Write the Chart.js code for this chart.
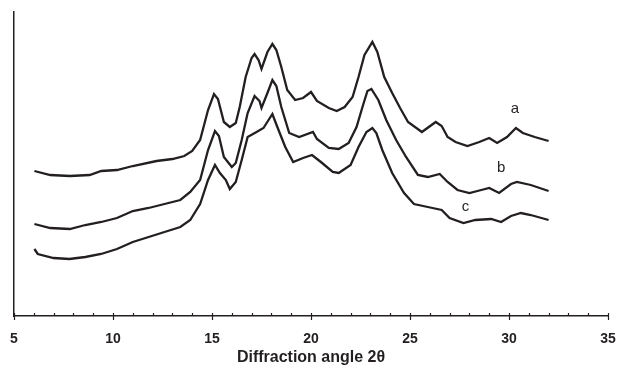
<!DOCTYPE html>
<html>
<head>
<meta charset="utf-8">
<script src="https://cdn.jsdelivr.net/npm/chart.js@4/dist/chart.umd.min.js"></script>
<style>
  html, body { margin: 0; padding: 0; background: #fff; }
  #wrap { width: 617px; height: 367px; }
</style>
</head>
<body>
<div id="wrap"><canvas id="xrd" width="617" height="367"></canvas></div>
<script>
// 2-theta positions and intensities (arbitrary units)
const angleA = [6.03, 6.83, 7.82, 8.82, 9.41, 10.2, 11.0, 12.2, 13.0, 13.6, 14.0, 14.4, 14.8, 15.1, 15.3, 15.6, 15.9, 16.2, 16.4, 16.7, 17.0, 17.15, 17.35, 17.5, 17.8, 18.05, 18.25, 18.5, 18.8, 19.2, 19.6, 20.0, 20.3, 20.9, 21.3, 21.7, 22.1, 22.4, 22.7, 23.1, 23.35, 23.7, 24.1, 24.5, 24.9, 25.6, 26.3, 26.6, 26.9, 27.3, 27.9, 28.5, 29.0, 29.4, 29.9, 30.35, 30.7, 31.3, 32.0];
const intensityA = [145, 141, 140, 141, 145, 146, 150, 155, 157, 160, 165, 176, 206, 222, 217, 194, 189, 193, 209, 239, 258, 262, 256, 247, 264, 272, 266, 249, 226, 216, 218, 224, 215, 208, 205, 209, 219, 239, 261, 274, 264, 239, 223, 208, 194, 184, 194, 190, 179, 174, 170, 174, 178, 173, 179, 188, 183, 179, 175];

const angleB = [6.03, 6.83, 7.82, 8.6, 9.41, 10.2, 11.0, 11.8, 12.6, 13.4, 13.9, 14.4, 14.8, 15.15, 15.35, 15.6, 16.0, 16.2, 16.5, 16.8, 17.15, 17.4, 17.5, 17.8, 18.05, 18.25, 18.5, 18.9, 19.4, 20.1, 20.3, 20.9, 21.4, 21.9, 22.3, 22.6, 22.85, 23.05, 23.4, 23.8, 24.3, 24.8, 25.4, 25.9, 26.5, 26.9, 27.4, 28.0, 28.6, 29.0, 29.5, 30.1, 30.4, 31.1, 32.0];
const intensityB = [92, 88, 87, 91, 94, 98, 105, 108, 112, 116, 124, 136, 166, 185, 180, 159, 149, 153, 176, 203, 220, 215, 208, 223, 236, 230, 209, 183, 179, 184, 177, 168, 167, 173, 189, 209, 225, 227, 216, 196, 176, 159, 141, 139, 142, 134, 126, 123, 126, 128, 123, 132, 134, 131, 125];

const angleC = [6.03, 6.2, 7.0, 7.8, 8.6, 9.4, 10.2, 11.0, 11.8, 12.6, 13.4, 13.9, 14.4, 14.8, 15.15, 15.4, 15.7, 15.9, 16.2, 16.5, 16.8, 17.25, 17.6, 18.05, 18.3, 18.7, 19.1, 19.6, 20.05, 20.5, 21.1, 21.4, 22.0, 22.4, 22.8, 23.1, 23.3, 23.6, 24.1, 24.7, 25.2, 25.9, 26.6, 27.0, 27.7, 28.3, 29.1, 29.6, 30.1, 30.6, 31.1, 32.0];
const intensityC = [67, 62, 58, 57, 59, 62, 67, 74, 79, 84, 89, 96, 112, 136, 151, 143, 136, 127, 134, 156, 179, 184, 188, 202, 189, 169, 154, 158, 161, 154, 144, 143, 151, 169, 184, 188, 183, 166, 143, 123, 112, 109, 106, 98, 93, 96, 97, 94, 100, 103, 101, 96];

// curve tags: [text, angle, intensity]
const curveTags = [['a', 30.3, 207], ['b', 29.6, 148], ['c', 27.8, 109]];

const xTickLabels = [5, 10, 15, 20, 25, 30, 35];

const ink = '#231f20';

const toPoints = (xs, ys) => xs.map((x, i) => ({ x, y: ys[i] }));

const lineSet = (label, xs, ys) => ({
    label,
    data: toPoints(xs, ys),
    borderColor: ink,
    borderWidth: 2.3,
    pointRadius: 0,
    tension: 0,
    fill: false
});

// inward tick marks on the x axis, longer ones at the labelled values
const axisTicks = {
    id: 'axisTicks',
    afterDraw(chart) {
        const { ctx, scales: { x, y } } = chart;
        const base = y.getPixelForValue(0);
        ctx.save();
        ctx.strokeStyle = ink;
        ctx.lineWidth = 1.2;
        for (let v = 5; v <= 35; v++) {
            const px = Math.round(x.getPixelForValue(v)) + 0.5;
            const major = xTickLabels.includes(v);
            ctx.beginPath();
            ctx.moveTo(px, base - 3);
            ctx.lineTo(px, base + (major ? 4 : 0));
            ctx.stroke();
        }
        ctx.restore();
    }
};

const tagLabels = {
    id: 'tagLabels',
    afterDatasetsDraw(chart) {
        const { ctx, scales: { x, y } } = chart;
        ctx.save();
        ctx.fillStyle = ink;
        ctx.font = "15px 'Liberation Sans', Arial, sans-serif";
        ctx.textAlign = 'center';
        ctx.textBaseline = 'middle';
        curveTags.forEach(([t, ax, iy]) => {
            ctx.fillText(t, x.getPixelForValue(ax), y.getPixelForValue(iy));
        });
        ctx.restore();
    }
};

new Chart(document.getElementById('xrd'), {
    type: 'line',
    data: {
        datasets: [
            lineSet('a', angleA, intensityA),
            lineSet('b', angleB, intensityB),
            lineSet('c', angleC, intensityC)
        ]
    },
    options: {
        responsive: false,
        animation: false,
        layout: { padding: { left: 14, right: 9, top: 12, bottom: 0 } },
        plugins: {
            legend: { display: false },
            tooltip: { enabled: false }
        },
        scales: {
            x: {
                type: 'linear',
                min: 5,
                max: 35,
                afterFit(axis) {
                    axis.height = 51;
                    axis.paddingLeft = 0;
                    axis.paddingRight = 0;
                },
                border: { display: true, color: ink, width: 1.5 },
                grid: { display: true, drawOnChartArea: false, drawTicks: false },
                ticks: {
                    stepSize: 1,
                    autoSkip: false,
                    maxRotation: 0,
                    padding: 15,
                    color: ink,
                    font: { family: "'Liberation Sans', Arial, sans-serif", size: 14, weight: 'bold' },
                    callback: (v) => xTickLabels.includes(v) ? String(v) : ''
                },
                title: {
                    display: true,
                    text: 'Diffraction angle 2θ',
                    color: ink,
                    padding: { top: 4, bottom: 0 },
                    font: { family: "'Liberation Sans', Arial, sans-serif", size: 16, weight: 'bold' }
                }
            },
            y: {
                min: 0,
                max: 304,
                afterFit(axis) { axis.width = 0; },
                border: { display: true, color: ink, width: 1.5 },
                grid: { display: false },
                ticks: { display: false }
            }
        }
    },
    plugins: [axisTicks, tagLabels]
});
</script>
</body>
</html>
